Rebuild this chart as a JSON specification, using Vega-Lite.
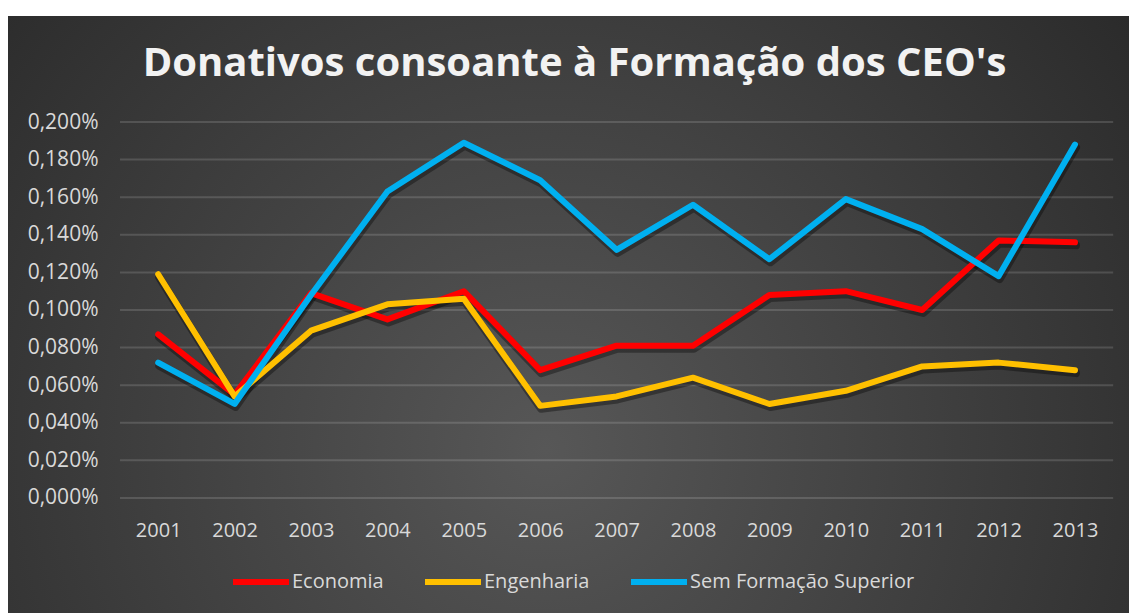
{
  "$schema": "https://vega.github.io/schema/vega-lite/v6.json",
  "width": 1121,
  "height": 597,
  "autosize": {"type": "none"},
  "padding": {"left": 8, "top": 16, "right": 0, "bottom": 0},
  "background": "#ffffff",
  "title": {
    "text": "Donativos consoante à Formação dos CEO's",
    "orient": "top",
    "anchor": "middle",
    "offset": -100,
    "baseline": "alphabetic",
    "dx": 6,
    "font": "Open Sans",
    "fontSize": 40,
    "fontWeight": "bold",
    "color": "#f2f2f2"
  },
  "config": {
    "view": {
      "stroke": null,
      "fill": {
        "gradient": "radial",
        "x1": 0.48, "y1": 0.62, "r1": 0,
        "x2": 0.48, "y2": 0.62, "r2": 0.72,
        "stops": [
          {"offset": 0, "color": "#575757"},
          {"offset": 1, "color": "#262626"}
        ]
      }
    },
    "font": "Open Sans"
  },
  "datasets": {
    "grid": [
      {"v": 0, "start": 2000.5, "end": 2013.5},
      {"v": 0.0002, "start": 2000.5, "end": 2013.5},
      {"v": 0.0004, "start": 2000.5, "end": 2013.5},
      {"v": 0.0006, "start": 2000.5, "end": 2013.5},
      {"v": 0.0008, "start": 2000.5, "end": 2013.5},
      {"v": 0.001, "start": 2000.5, "end": 2013.5},
      {"v": 0.0012, "start": 2000.5, "end": 2013.5},
      {"v": 0.0014, "start": 2000.5, "end": 2013.5},
      {"v": 0.0016, "start": 2000.5, "end": 2013.5},
      {"v": 0.0018, "start": 2000.5, "end": 2013.5},
      {"v": 0.002, "start": 2000.5, "end": 2013.5}
    ],
    "series": [
      {"ano": 2001, "serie": "Economia", "valor": 0.00087},
      {"ano": 2002, "serie": "Economia", "valor": 0.00055},
      {"ano": 2003, "serie": "Economia", "valor": 0.00109},
      {"ano": 2004, "serie": "Economia", "valor": 0.00095},
      {"ano": 2005, "serie": "Economia", "valor": 0.00110},
      {"ano": 2006, "serie": "Economia", "valor": 0.00068},
      {"ano": 2007, "serie": "Economia", "valor": 0.00081},
      {"ano": 2008, "serie": "Economia", "valor": 0.00081},
      {"ano": 2009, "serie": "Economia", "valor": 0.00108},
      {"ano": 2010, "serie": "Economia", "valor": 0.00110},
      {"ano": 2011, "serie": "Economia", "valor": 0.00100},
      {"ano": 2012, "serie": "Economia", "valor": 0.00137},
      {"ano": 2013, "serie": "Economia", "valor": 0.00136},
      {"ano": 2001, "serie": "Engenharia", "valor": 0.00119},
      {"ano": 2002, "serie": "Engenharia", "valor": 0.00054},
      {"ano": 2003, "serie": "Engenharia", "valor": 0.00089},
      {"ano": 2004, "serie": "Engenharia", "valor": 0.00103},
      {"ano": 2005, "serie": "Engenharia", "valor": 0.00106},
      {"ano": 2006, "serie": "Engenharia", "valor": 0.00049},
      {"ano": 2007, "serie": "Engenharia", "valor": 0.00054},
      {"ano": 2008, "serie": "Engenharia", "valor": 0.00064},
      {"ano": 2009, "serie": "Engenharia", "valor": 0.00050},
      {"ano": 2010, "serie": "Engenharia", "valor": 0.00057},
      {"ano": 2011, "serie": "Engenharia", "valor": 0.00070},
      {"ano": 2012, "serie": "Engenharia", "valor": 0.00072},
      {"ano": 2013, "serie": "Engenharia", "valor": 0.00068},
      {"ano": 2001, "serie": "Sem Formação Superior", "valor": 0.00072},
      {"ano": 2002, "serie": "Sem Formação Superior", "valor": 0.00050},
      {"ano": 2003, "serie": "Sem Formação Superior", "valor": 0.00108},
      {"ano": 2004, "serie": "Sem Formação Superior", "valor": 0.00163},
      {"ano": 2005, "serie": "Sem Formação Superior", "valor": 0.00189},
      {"ano": 2006, "serie": "Sem Formação Superior", "valor": 0.00169},
      {"ano": 2007, "serie": "Sem Formação Superior", "valor": 0.00132},
      {"ano": 2008, "serie": "Sem Formação Superior", "valor": 0.00156},
      {"ano": 2009, "serie": "Sem Formação Superior", "valor": 0.00127},
      {"ano": 2010, "serie": "Sem Formação Superior", "valor": 0.00159},
      {"ano": 2011, "serie": "Sem Formação Superior", "valor": 0.00143},
      {"ano": 2012, "serie": "Sem Formação Superior", "valor": 0.00118},
      {"ano": 2013, "serie": "Sem Formação Superior", "valor": 0.00188}
    ]
  },
  "layer": [
    {
      "data": {"name": "grid"},
      "mark": {"type": "rule", "stroke": "#ffffff", "strokeOpacity": 0.14, "strokeWidth": 2},
      "encoding": {
        "y": {
          "field": "v", "type": "quantitative",
          "scale": {"domain": [-0.000612, 0.002564], "nice": false, "zero": false},
          "axis": {
            "orient": "left",
            "offset": -90,
            "values": [0, 0.0002, 0.0004, 0.0006, 0.0008, 0.001, 0.0012, 0.0014, 0.0016, 0.0018, 0.002],
            "labelExpr": "replace(format(datum.value, '.3%'), '.', ',')",
            "title": null,
            "grid": false,
            "domain": false,
            "ticks": false,
            "labelPadding": 0,
            "labelFont": "Open Sans",
            "labelFontSize": 21,
            "labelColor": "#d9d9d9",
            "labelBaseline": "middle"
          }
        },
        "x": {
          "field": "start", "type": "quantitative",
          "scale": {"domain": [1999.034, 2013.707], "nice": false, "zero": false},
          "axis": {
            "orient": "bottom",
            "offset": -83,
            "values": [2001, 2002, 2003, 2004, 2005, 2006, 2007, 2008, 2009, 2010, 2011, 2012, 2013],
            "format": "d",
            "title": null,
            "grid": false,
            "domain": false,
            "ticks": false,
            "labelPadding": 0,
            "labelFont": "Open Sans",
            "labelFontSize": 20,
            "labelColor": "#d9d9d9",
            "labelBaseline": "middle"
          }
        },
        "x2": {"field": "end"}
      }
    },
    {
      "data": {"name": "series"},
      "mark": {"type": "line", "stroke": "#000000", "strokeOpacity": 0.35, "strokeWidth": 8, "yOffset": 3, "xOffset": 1, "strokeCap": "round", "strokeJoin": "round"},
      "encoding": {
        "x": {"field": "ano", "type": "quantitative"},
        "y": {"field": "valor", "type": "quantitative"},
        "detail": {"field": "serie"}
      }
    },
    {
      "data": {"name": "series"},
      "mark": {"type": "line", "strokeWidth": 6, "strokeCap": "round", "strokeJoin": "round"},
      "encoding": {
        "x": {"field": "ano", "type": "quantitative"},
        "y": {"field": "valor", "type": "quantitative"},
        "color": {
          "field": "serie", "type": "nominal",
          "scale": {
            "domain": ["Economia", "Engenharia", "Sem Formação Superior"],
            "range": ["#ff0000", "#ffc000", "#00b0f0"]
          },
          "legend": {
            "title": null,
            "orient": "none",
            "legendX": 222,
            "legendY": 535,
            "direction": "horizontal",
            "symbolType": "stroke",
            "symbolSize": 3136,
            "symbolStrokeWidth": 6,
            "labelFont": "Open Sans",
            "labelFontSize": 20,
            "labelColor": "#d9d9d9",
            "labelOffset": 0,
            "labelLimit": 400,
            "columnPadding": 29,
            "padding": 0
          }
        }
      }
    }
  ]
}
